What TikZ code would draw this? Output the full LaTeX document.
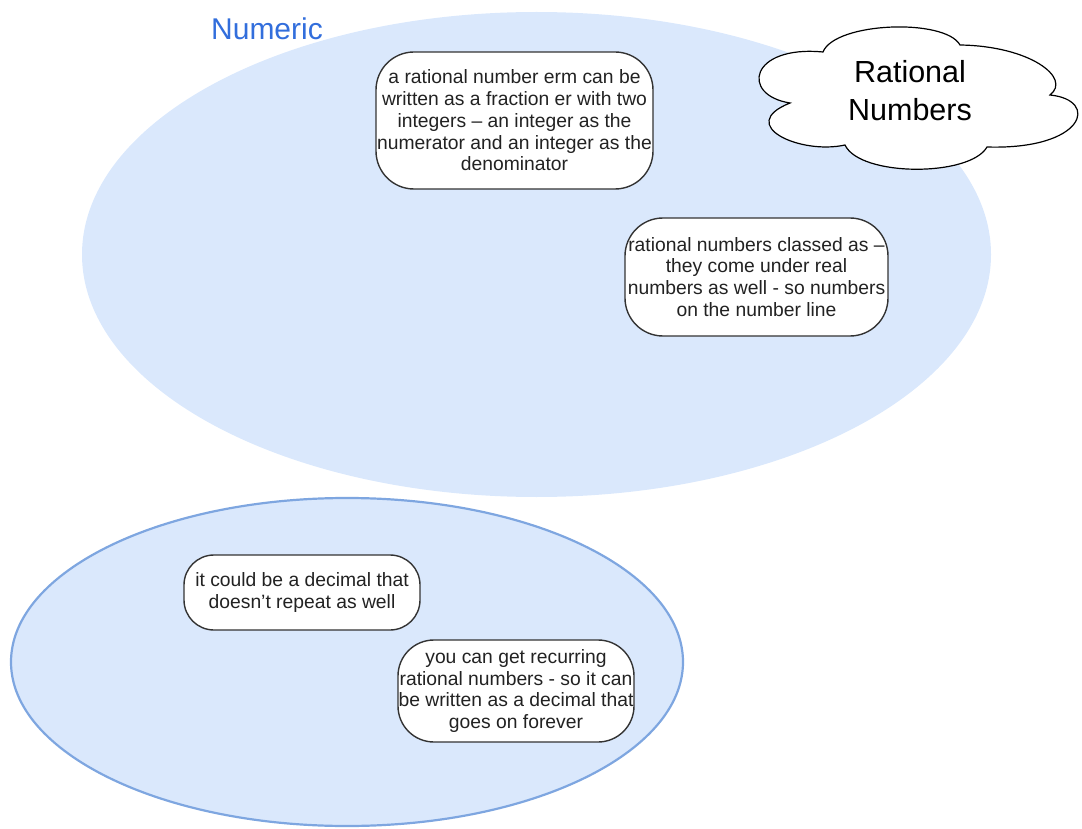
\documentclass[tikz,border=0pt]{standalone}
\usepackage{fontspec}
\setmainfont{Liberation Sans}
\definecolor{ellfill}{HTML}{DAE8FC}
\definecolor{ellline}{HTML}{7EA6E0}
\definecolor{numblue}{RGB}{50,110,220}
\definecolor{boxline}{HTML}{333333}
\definecolor{txt}{HTML}{222222}
\tikzset{
  notebox/.style={draw=boxline, line width=1.4pt, fill=white, rounded corners=#1,
    align=center, text=txt, inner sep=0pt, font=\fontsize{19.3}{21.8}\selectfont},
  notebox/.default=38pt,
  cloudline/.style={draw=black, line width=1.2pt, fill=white}
}
\begin{document}
\begin{tikzpicture}[x=1pt,y=-1pt]
\useasboundingbox (0,0) rectangle (1082,829);
% ellipses
\fill[ellfill] (536.5,254.5) ellipse[x radius=454.5, y radius=242.5];
\draw[ellline, fill=ellfill, line width=2.2pt] (347,662) ellipse[x radius=336, y radius=164];
\node[text=numblue, font=\fontsize{30}{34}\selectfont, anchor=center] (numeric) at (267,29) {Numeric};
% cloud
\path[cloudline] (823,52)
  .. controls (835,22) and (945,18) .. (960,45)
  .. controls (1030,46) and (1072,78) .. (1050,95)
  .. controls (1100,100) and (1085,150) .. (987,147)
  .. controls (970,177) and (860,177) .. (845,145)
  .. controls (800,155) and (735,125) .. (790,103)
  .. controls (740,95) and (750,45) .. (823,52) -- cycle;
\node[align=center, text=black, font=\fontsize{30.5}{38}\selectfont] (cloudtxt) at (910,91) {Rational\\Numbers};
% boxes
\node[notebox, minimum width=277pt, minimum height=137pt] (b1) at (514.5,120.5)
  {a rational number erm can be\\written as a fraction er with two\\integers -- an integer as the\\numerator and an integer as the\\denominator};
\node[notebox, minimum width=263pt, minimum height=118pt] (b2) at (756.5,277)
  {rational numbers classed as --\\they come under real\\numbers as well - so numbers\\on the number line};
\node[notebox=30pt, minimum width=236pt, minimum height=75pt] (b3) at (302,592.5)
  {it could be a decimal that\\doesn’t repeat as well};
\node[notebox=36pt, minimum width=236pt, minimum height=102pt] (b4) at (516,691)
  {you can get recurring\\rational numbers - so it can\\be written as a decimal that\\goes on forever};
\end{tikzpicture}
\end{document}
